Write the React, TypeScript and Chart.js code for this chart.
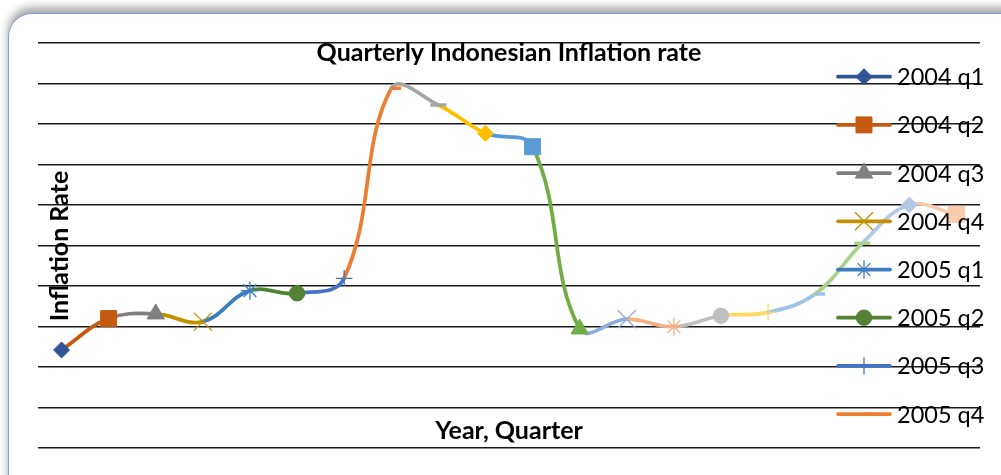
import React, { useEffect, useRef } from 'react';
import { Chart, registerables } from 'chart.js';
import { drawPoint } from 'chart.js/helpers';

Chart.register(...registerables);

const categories = [
  '2004 q1', '2004 q2', '2004 q3', '2004 q4',
  '2005 q1', '2005 q2', '2005 q3', '2005 q4',
  '2006 q1', '2006 q2', '2006 q3', '2006 q4',
  '2007 q1', '2007 q2', '2007 q3', '2007 q4',
  '2008 q1', '2008 q2', '2008 q3', '2008 q4',
];

const inflation = [
  4.84, 6.39, 6.62, 6.24,
  7.77, 7.64, 8.38, 17.76,
  16.94, 15.54, 14.88, 5.88,
  6.36, 5.99, 6.53, 6.7,
  7.6, 10.11, 12.0, 11.54,
];

const pointColors = [
  '#2f5597', '#c55a11', '#7f7f7f', '#c09200',
  '#3c7dbf', '#548235', '#4472c4', '#ed7d31',
  '#a5a5a5', '#ffc000', '#5b9bd5', '#70ad47',
  '#8faadc', '#f4b183', '#bfbfbf', '#ffd966',
  '#9dc3e6', '#a9d18e', '#b4c7e7', '#f8cbad',
];

const pointStyles = [
  'rectRot', 'rect', 'triangle', 'crossRot',
  'star', 'circle', 'cross', 'dash',
  'line', 'rectRot', 'rect', 'triangle',
  'crossRot', 'star', 'circle', 'cross',
  'dash', 'line', 'rectRot', 'rect',
];

const styleRadius: Record<string, number> = {
  rectRot: 8, rect: 11.3, triangle: 10, crossRot: 12.7,
  star: 9, circle: 7.7, cross: 8.3, dash: 10, line: 8,
};
const styleBorder: Record<string, number> = {
  rectRot: 1, rect: 1, triangle: 1, crossRot: 1.3,
  star: 1.3, circle: 1, cross: 1.3, dash: 3.5, line: 3.5,
};

const legendCount = 8;
const titleText = 'Quarterly Indonesian Inflation rate';
const yTitle = 'Inflation Rate';
const xTitle = 'Year, Quarter';
const yMin = 0;
const yMax = 20;
const yStep = 2;

const textPlugin = {
  id: 'excelTexts',
  afterDraw(chart: any) {
    const ctx = chart.ctx as CanvasRenderingContext2D;
    const area = chart.chartArea;
    const cx = (area.left + area.right) / 2;
    ctx.save();
    ctx.fillStyle = '#000';
    ctx.textAlign = 'center';
    ctx.textBaseline = 'middle';
    ctx.font = 'bold 25px Lato';
    ctx.fillText(titleText, cx, 53);
    ctx.font = 'bold 25px Lato';
    ctx.fillText(xTitle, cx, 431);
    ctx.save();
    ctx.translate(60, 246);
    ctx.rotate(-Math.PI / 2);
    ctx.fillText(yTitle, 0, 0);
    ctx.restore();

    // legend
    const lx0 = 838;
    const lx1 = 890;
    const ly0 = 76.7;
    const dy = 48.2;
    for (let i = 0; i < legendCount; i++) {
      const y = ly0 + i * dy;
      const c = pointColors[i];
      ctx.strokeStyle = c;
      ctx.lineWidth = 3.75;
      ctx.lineCap = 'round';
      ctx.beginPath();
      ctx.moveTo(lx0, y);
      ctx.lineTo(lx1, y);
      ctx.stroke();
      const st = pointStyles[i];
      ctx.fillStyle = c;
      ctx.strokeStyle = c;
      ctx.lineWidth = styleBorder[st];
      ctx.lineCap = 'butt';
      drawPoint(ctx, { pointStyle: st as any, radius: styleRadius[st], rotation: 0, borderWidth: styleBorder[st] } as any, (lx0 + lx1) / 2, y);
      ctx.fillStyle = '#000';
      ctx.textAlign = 'left';
      ctx.font = '23.5px Lato';
      ctx.fillText(categories[i], 897, y + 1);
    }
    ctx.restore();
  },
};

export default function App() {
  const ref = useRef<HTMLCanvasElement | null>(null);
  useEffect(() => {
    if (!ref.current) return;
    const chart = new Chart(ref.current, {
      type: 'line',
      data: {
        labels: categories,
        datasets: [
          {
            label: 'Inflation',
            data: inflation,
            borderWidth: 3.75,
            borderCapStyle: 'round',
            borderJoinStyle: 'round',
            tension: 0.4,
            segment: {
              borderColor: (c: any) => pointColors[c.p1DataIndex],
            },
            pointStyle: pointStyles as any,
            pointRadius: pointStyles.map((s) => styleRadius[s]),
            pointBorderWidth: pointStyles.map((s) => styleBorder[s]),
            pointBackgroundColor: pointColors,
            pointBorderColor: pointColors,
            borderColor: pointColors[1],
          },
        ],
      },
      options: {
        responsive: false,
        animation: false,
        layout: { padding: { left: 38, right: 21, top: 43, bottom: 27 } },
        plugins: {
          legend: { display: false },
          title: { display: false },
          tooltip: { enabled: false },
        },
        scales: {
          x: { type: 'category', offset: true, display: false },
          y: {
            min: yMin,
            max: yMax,
            ticks: { display: false, stepSize: yStep },
            border: { display: false },
            grid: { drawTicks: false, color: '#1a1a1a', lineWidth: 1.6 },
            afterFit: (s: any) => { s.width = 0; },
          },
        },
      },
      plugins: [textPlugin],
    });
    return () => chart.destroy();
  }, []);

  return (
    <div style={{ position: 'fixed', left: 0, top: 0, width: 1001, height: 475, overflow: 'hidden', background: '#fff' }}>
      <div
        style={{
          position: 'absolute', left: 8, top: 13, width: 1040, height: 520,
          border: '1.5px solid #7c9fd4', borderRadius: 24,
          boxShadow: '0 -6px 9px rgba(0,0,0,0.35)', background: '#fff',
        }}
      />
      <canvas ref={ref} width={1001} height={475} style={{ position: 'absolute', left: 0, top: 0 }} />
    </div>
  );
}
